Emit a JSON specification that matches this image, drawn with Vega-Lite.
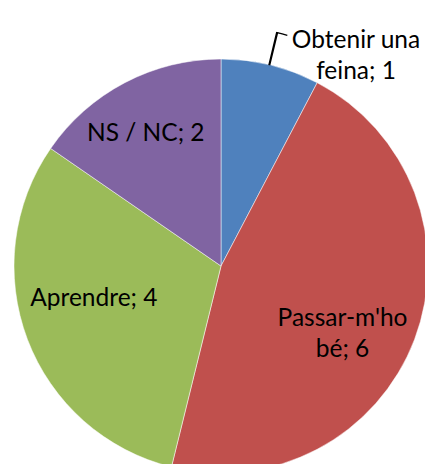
{
  "$schema": "https://vega.github.io/schema/vega-lite/v6.json",
  "width": 442,
  "height": 532,
  "padding": 0,
  "autosize": {"type": "none"},
  "background": "white",
  "config": {"view": {"stroke": null}},
  "data": {
    "values": [
      {"idx": 1, "category": "Obtenir una feina", "value": 1, "label": "Obtenir una\nfeina; 1"},
      {"idx": 2, "category": "Passar-m'ho bé", "value": 6, "label": "Passar-m'ho\nbé; 6"},
      {"idx": 3, "category": "Aprendre", "value": 4, "label": "Aprendre; 4"},
      {"idx": 4, "category": "NS / NC", "value": 2, "label": "NS / NC; 2"}
    ]
  },
  "transform": [
    {"stack": "value", "sort": [{"field": "idx", "order": "ascending"}], "groupby": [], "as": ["v0", "v1"]},
    {"calculate": "(datum.v0 + datum.v1) / 2", "as": "vmid"}
  ],
  "layer": [
    {
      "mark": {"type": "arc", "radius": 207, "stroke": "white", "strokeWidth": 0.5},
      "encoding": {
        "theta": {"field": "v0", "type": "quantitative", "scale": {"domain": [0, 13]}},
        "theta2": {"field": "v1"},
        "color": {
          "field": "category",
          "type": "nominal",
          "scale": {
            "domain": ["Obtenir una feina", "Passar-m'ho bé", "Aprendre", "NS / NC"],
            "range": ["#4F81BD", "#C0504D", "#9BBB59", "#8064A2"]
          },
          "legend": null
        }
      }
    },
    {
      "transform": [{"filter": "datum.idx == 1"}],
      "mark": {"type": "arc", "radius": 207, "radius2": 240, "theta": 0.234, "theta2": 0.238, "fill": null, "stroke": "black", "strokeWidth": 1.3}
    },
    {
      "transform": [{"filter": "datum.idx == 1"}],
      "mark": {"type": "arc", "radius": 240, "radius2": 240, "theta": 0.236, "theta2": 0.28, "fill": null, "stroke": "black", "strokeWidth": 1.3}
    },
    {
      "transform": [{"filter": "datum.idx == 1"}],
      "mark": {"type": "text", "radius": 230, "dx": 80, "dy": -2, "font": "Lato", "fontSize": 24.5, "lineBreak": "\n", "lineHeight": 31, "align": "center", "baseline": "middle", "color": "black"},
      "encoding": {"theta": {"field": "vmid", "type": "quantitative", "scale": {"domain": [0, 13]}}, "text": {"field": "label"}}
    },
    {
      "transform": [{"filter": "datum.idx == 2"}],
      "mark": {"type": "text", "radius": 130, "dx": 0, "dy": 7, "font": "Lato", "fontSize": 24.5, "lineBreak": "\n", "lineHeight": 31, "align": "center", "baseline": "middle", "color": "black"},
      "encoding": {"theta": {"field": "vmid", "type": "quantitative", "scale": {"domain": [0, 13]}}, "text": {"field": "label"}}
    },
    {
      "transform": [{"filter": "datum.idx == 3"}],
      "mark": {"type": "text", "radius": 136, "dx": 0, "dy": -15, "font": "Lato", "fontSize": 24.5, "align": "center", "baseline": "middle", "color": "black"},
      "encoding": {"theta": {"field": "vmid", "type": "quantitative", "scale": {"domain": [0, 13]}}, "text": {"field": "label"}}
    },
    {
      "transform": [{"filter": "datum.idx == 4"}],
      "mark": {"type": "text", "radius": 149, "dx": -6, "dy": 0, "font": "Lato", "fontSize": 24.5, "align": "center", "baseline": "middle", "color": "black"},
      "encoding": {"theta": {"field": "vmid", "type": "quantitative", "scale": {"domain": [0, 13]}}, "text": {"field": "label"}}
    }
  ]
}
